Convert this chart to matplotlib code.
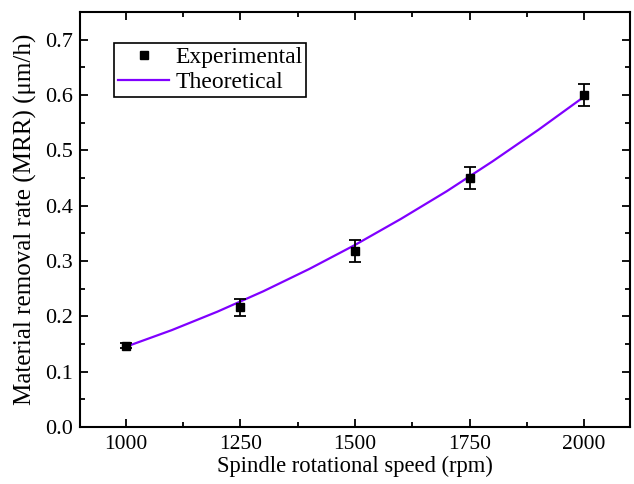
import numpy as np
import matplotlib.pyplot as plt
from matplotlib.ticker import MultipleLocator
from matplotlib.lines import Line2D

speed = [1000, 1250, 1500, 1750, 2000]
mrr_exp = [0.147, 0.216, 0.318, 0.450, 0.600]
mrr_err = [0.005, 0.015, 0.020, 0.020, 0.020]

speed_th = [1000, 1100, 1200, 1300, 1400, 1500, 1600, 1700, 1800, 1900, 2000]
mrr_th = [0.145, 0.175, 0.2085, 0.2453, 0.2855, 0.329, 0.376, 0.426, 0.480, 0.537, 0.597]

plt.rcParams['font.family'] = ['Liberation Serif', 'DejaVu Serif']

fig = plt.figure(figsize=(6.34, 4.84), dpi=100)
ax = fig.add_axes([80/634, 1-427/484, 550/634, 415/484])

ax.plot(speed_th, mrr_th, color="#8000FF", lw=1.6, zorder=2)
ax.errorbar(speed, mrr_exp, yerr=mrr_err, fmt="s", color="black", ms=6,
            capsize=4, elinewidth=1.3, capthick=1.3, zorder=3)

ax.set_xlim(900, 2100)
ax.set_ylim(0, 0.75)
ax.xaxis.set_major_locator(MultipleLocator(250))
ax.xaxis.set_minor_locator(MultipleLocator(125))
ax.yaxis.set_major_locator(MultipleLocator(0.1))
ax.yaxis.set_minor_locator(MultipleLocator(0.05))
ax.yaxis.set_major_formatter(plt.FormatStrFormatter('%.1f'))
ax.tick_params(which='both', direction='in', top=True, right=True, width=1.3)
ax.tick_params(axis='x', labelsize=15.5, pad=6)
ax.tick_params(axis='y', labelsize=16, pad=5)
ax.tick_params(which='major', length=6)
ax.tick_params(which='minor', length=3.5)
for s in ax.spines.values():
    s.set_linewidth(1.5)

ax.set_xlabel("Spindle rotational speed (rpm)", fontsize=16.3, labelpad=1)
ax.set_ylabel("Material removal rate (MRR) (μm/h)", fontsize=18, labelpad=6)

handles = [Line2D([], [], ls="none", marker="s", color="black", ms=6),
           Line2D([], [], color="#8000FF", lw=1.6)]
leg = ax.legend(handles, ["Experimental", "Theoretical"], loc="upper left",
                bbox_to_anchor=(34/550, 0.925), fontsize=17, fancybox=False,
                edgecolor="black", framealpha=1, handlelength=2.2,
                handletextpad=0.25, borderpad=0.15, borderaxespad=0, labelspacing=0.15)
leg.get_frame().set_linewidth(1.2)

fig.savefig("out.png", dpi=100)
